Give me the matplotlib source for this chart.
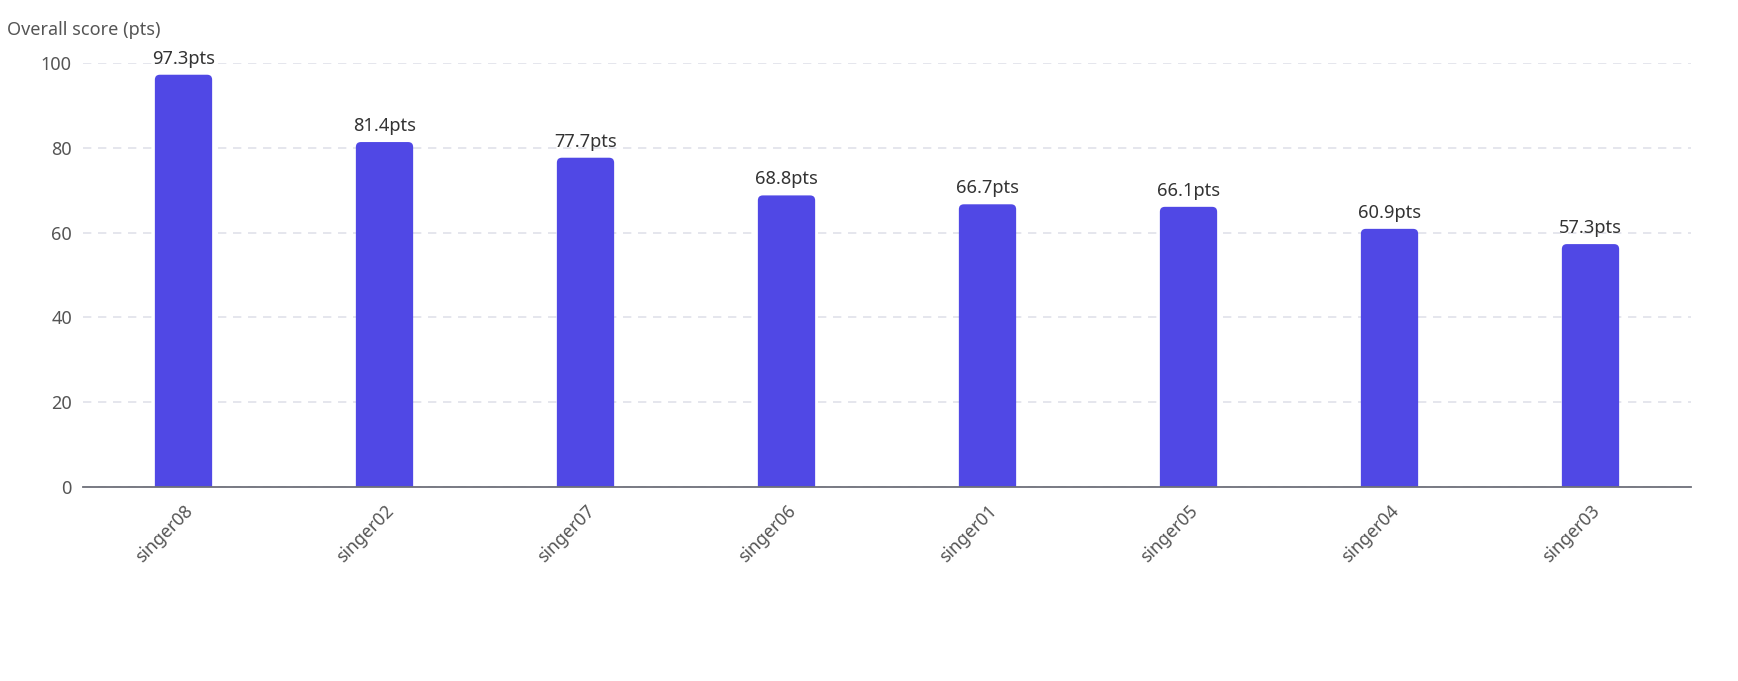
import matplotlib
matplotlib.use("Agg")
import matplotlib.pyplot as plt
from matplotlib.patches import FancyBboxPatch

categories = ["singer08", "singer02", "singer07", "singer06", "singer01", "singer05", "singer04", "singer03"]
scores = [97.3, 81.4, 77.7, 68.8, 66.7, 66.1, 60.9, 57.3]
yticks = [0, 20, 40, 60, 80, 100]

plt.rcParams['font.family'] = ['Noto Sans', 'DejaVu Sans']

W, H = 1738, 681
fig = plt.figure(figsize=(W / 100, H / 100), dpi=100)
ax = fig.add_axes([83 / W, 1 - 486.7 / H, (1691 - 83) / W, (486.7 - 63.3) / H])

x = list(range(len(categories)))
bar_w = 0.285
bars = ax.bar(x, scores, width=bar_w, color="#5048e5")
ax.set_xlim(-0.5, len(categories) - 0.5)
ax.set_ylim(0, 100)

# rounded top corners
px_x = (1691 - 83) / len(categories)
px_y = (486.7 - 63.3) / 100
r_px = 5
for b in bars:
    b.set_visible(False)
    bx, bw, bh = b.get_x(), b.get_width(), b.get_height()
    p = FancyBboxPatch((bx, -3), bw, bh + 3,
                       boxstyle=f"round,pad=0,rounding_size={r_px / px_x}",
                       mutation_aspect=(r_px / px_y) / (r_px / px_x),
                       facecolor="#5048e5", edgecolor="none", zorder=3)
    ax.add_patch(p)

for xi, v in zip(x, scores):
    ax.annotate(f"{v}pts", (xi, v), xytext=(0, 5), textcoords="offset points",
                ha="center", va="bottom", fontsize=13.2, color="#333333")

ax.set_yticks(yticks)
ax.set_yticklabels([str(t) for t in yticks], fontsize=13, color="#555555")
ax.set_xticks(x)
ax.set_xticklabels(categories, rotation=45, ha="right", va="top",
                   rotation_mode="anchor", fontsize=12.8, color="#555555")
ax.tick_params(axis="both", length=0)
ax.tick_params(axis="x", pad=11)
ax.tick_params(axis="y", pad=8)

ax.grid(axis="y", color="#e0e2ea", linestyle=(0, (5, 4)), linewidth=1.2, zorder=0)
ax.set_axisbelow(True)
for s in ["top", "right", "left"]:
    ax.spines[s].set_visible(False)
ax.spines["bottom"].set_color("#6e7079")
ax.spines["bottom"].set_linewidth(1.3)
ax.spines["bottom"].set_zorder(4)

fig.text(7 / W, 1 - 30 / H, "Overall score (pts)", fontsize=13, color="#555555",
         ha="left", va="center")

fig.savefig("out.png", dpi=100, facecolor="white")
